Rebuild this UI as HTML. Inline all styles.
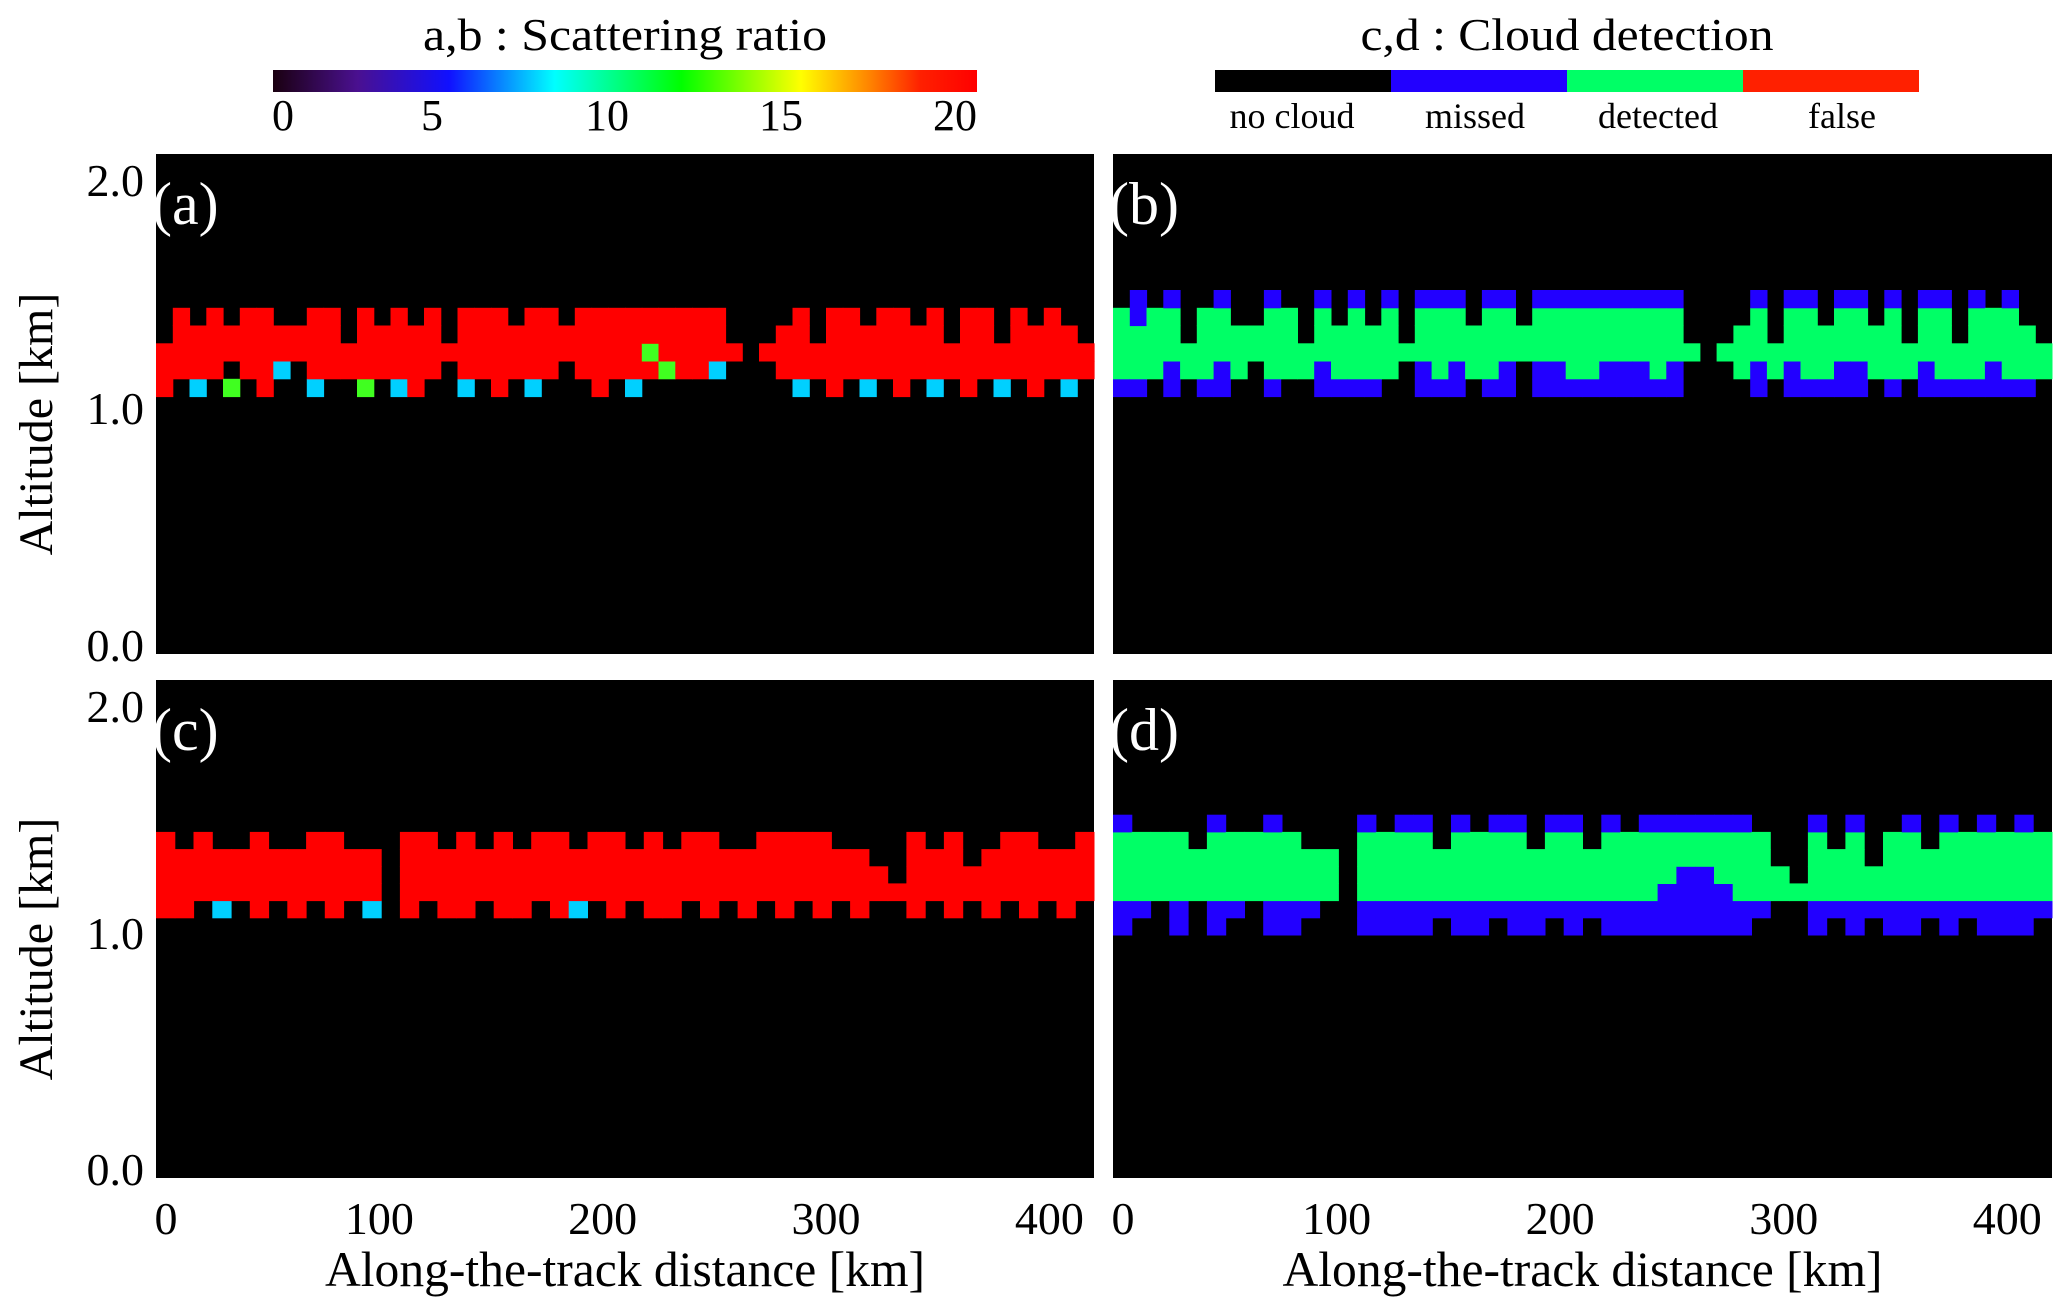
<!DOCTYPE html>
<html><head><meta charset="utf-8"><style>
html,body{margin:0;padding:0;background:#fff;}
svg{display:block;font-family:"Liberation Serif",serif;}
</style></head><body>
<svg id="fig" width="2067" height="1315" viewBox="0 0 2067 1315">
<defs>
<linearGradient id="sr" x1="0" x2="1" y1="0" y2="0">
<stop offset="0" stop-color="#1a0010"/><stop offset="0.12" stop-color="#4a1090"/>
<stop offset="0.25" stop-color="#1010ff"/><stop offset="0.4" stop-color="#00ffff"/>
<stop offset="0.58" stop-color="#00ff00"/><stop offset="0.75" stop-color="#ffff00"/>
<stop offset="0.85" stop-color="#ff8000"/><stop offset="0.92" stop-color="#ff2000"/><stop offset="1" stop-color="#ff0000"/>
</linearGradient>
</defs>
<g>
<text x="625" y="50" font-size="46" text-anchor="middle" textLength="404" lengthAdjust="spacingAndGlyphs">a,b : Scattering ratio</text>
<rect x="273" y="70" width="704" height="22" fill="url(#sr)"/>
<text x="283" y="130" font-size="44" text-anchor="middle">0</text>
<text x="432" y="130" font-size="44" text-anchor="middle">5</text>
<text x="607" y="130" font-size="44" text-anchor="middle">10</text>
<text x="781" y="130" font-size="44" text-anchor="middle">15</text>
<text x="955" y="130" font-size="44" text-anchor="middle">20</text>
</g>
<g>
<text x="1567" y="50" font-size="46" text-anchor="middle" textLength="413" lengthAdjust="spacingAndGlyphs">c,d : Cloud detection</text>
<rect x="1215" y="70" width="176" height="22" fill="#000"/>
<rect x="1391" y="70" width="176" height="22" fill="#2200ff"/>
<rect x="1567" y="70" width="176" height="22" fill="#00ff66"/>
<rect x="1743" y="70" width="176" height="22" fill="#ff2000"/>
<text x="1292" y="128" font-size="36" text-anchor="middle">no cloud</text>
<text x="1475" y="128" font-size="36" text-anchor="middle">missed</text>
<text x="1658" y="128" font-size="36" text-anchor="middle">detected</text>
<text x="1842" y="128" font-size="36" text-anchor="middle">false</text>
</g>
<g id="panels"></g>
</svg>
<script>
// Data: each column string lists cloud-category codes from lowest to highest altitude bin
const xDomain = [0, 420];
const yDomain = [0, 2];
const xTicks = [0, 100, 200, 300, 400];
const yTicks = [0.0, 1.0, 2.0];
const abBinBase = 1.03, abBinH = 0.071;
const cdBinBase = 0.976, cdBinH = 0.069;
const colsA = ["rrr...",".rrrr.","crrr..",".rrrr.","g.rr..",".rrrr.","rrrrr.",".crr..","..rr..","crrrr.",".rrrr.",".rr...","grrrr.",".rrr..","crrrr.","rrrr..",".rrrr.","..r...","crrrr.",".rrrr.","rrrrr.",".rrr..","crrrr.",".rrrr.","..rr..",".rrrr.","rrrrr.",".rrrr.","crrrr.",".rgrr.",".grrr.",".rrrr.",".rrrr.",".crrr.","..r...","......","..r...",".rrr..","crrrr.",".rr...","rrrrr.",".rrrr.","crrr..",".rrrr.","rrrrr.",".rrr..","crrrr.",".rr...","rrrrr.",".rrrr.","crr...",".rrrr.","rrrr..",".rrrr.","crrr..",".rr..."];
const colsB = ["mdddd.","mdddmm",".dddd.","mmdddm",".dd...","mdddd.","mmdddm",".ddd..","..dd..","mddddm",".dddd.",".dd...","mmdddm","mddd..","mddddm","mddd..",".ddddm","..d...","mmdddm","mddddm","mmdddm",".ddd..","mddddm","mmdddm","..dd..","mmdddm","mmdddm","mddddm","mddddm","mmdddm","mmdddm","mmdddm","mddddm","mmdddm","..d...","......","..d...",".ddd..","mmdddm",".dd...","mmdddm","mddddm","mddd..","mmdddm","mmdddm",".ddd..","mddddm",".dd...","mmdddm","mddddm","mdd...","mddddm","mmddd.","mddddm","mddd..",".dd...."];
const colsC = [".rrrrr.",".rrrr..","..rrrr.",".crrr..","..rrr..",".rrrrr.","..rrr..",".rrrr..","..rrrr.",".rrrrr.","..rrr..",".crrr..","......",".rrrrr.","..rrrr.",".rrrr..",".rrrrr.","..rrr..",".rrrrr.",".rrrr..","..rrrr.",".rrrrr.",".crrr..","..rrrr.",".rrrrr.","..rrr..",".rrrrr.",".rrrr..","..rrrr.",".rrrrr.","..rrr..",".rrrr..","..rrrr.",".rrrrr.","..rrrr.",".rrrrr.","..rrr..",".rrrr..","..rr...","..r....",".rrrrr.","..rrr..",".rrrrr.","..rr...",".rrrr..","..rrrr.",".rrrrr.","..rrr..",".rrrr..","..rrrr."];
const colsD = ["mmddddm",".mdddd.","..dddd.","mmdddd.","..ddd..","mmddddm",".mdddd.","..dddd.","mmddddm","mmdddd.",".mddd..","..ddd..","......","mmddddm","mmdddd.","mmddddm","mmddddm",".mddd..","mmddddm","mmdddd.",".mddddm","mmddddm","mmddd..",".mddddm","mmddddm",".mddd..","mmddddm","mmdddd.","mmddddm","mmmdddm","mmmmddm","mmmmddm","mmmdddm","mmddddm",".mdddd.","..dd...","..d....","mmddddm",".mddd..","mmddddm",".mdd...","mmdddd.","mmddddm",".mddd..","mmddddm",".mdddd.","mmddddm","mmdddd.","mmddddm",".mdddd."];
const colorsSR = {r:"#ff0000", g:"#40ff20", c:"#00d0ff", b:"#2060ff"};
const colorsCD = {m:"#2200ff", d:"#00ff66", f:"#ff2000"};

const NS = "http://www.w3.org/2000/svg";
const root = document.getElementById('panels');
function mk(tag, attrs, parent){const e=document.createElementNS(NS,tag);for(const k in attrs)e.setAttribute(k,attrs[k]);(parent||root).appendChild(e);return e;}

const panels = [
 {id:'a', x0:156, x1:1094, y0:154, y1:654, cols:colsA, base:abBinBase, bh:abBinH, colors:colorsSR, yAxis:true, xAxis:false},
 {id:'b', x0:1113, x1:2052, y0:154, y1:654, cols:colsB, base:abBinBase, bh:abBinH, colors:colorsCD, yAxis:false, xAxis:false},
 {id:'c', x0:156, x1:1094, y0:680, y1:1178, cols:colsC, base:cdBinBase, bh:cdBinH, colors:colorsSR, yAxis:true, xAxis:true},
 {id:'d', x0:1113, x1:2052, y0:680, y1:1178, cols:colsD, base:cdBinBase, bh:cdBinH, colors:colorsCD, yAxis:false, xAxis:true}
];
panels.forEach(p=>{
  const g = mk('g',{});
  
  
  const xs = v => p.x0 + (v - xDomain[0])/(xDomain[1]-xDomain[0])*(p.x1-p.x0);
  const ys = v => p.y1 - (v - yDomain[0])/(yDomain[1]-yDomain[0])*(p.y1-p.y0);
  const bg = mk('rect',{x:p.x0,y:p.y0,width:p.x1-p.x0,height:p.y1-p.y0,fill:'#000'},g);
  
  
  const n = p.cols.length, dw = (xDomain[1]-xDomain[0])/n;
  p.cols.forEach((s,i)=>{
    for(let k=0;k<s.length;k++){
      const ch = s[k]; if(!p.colors[ch]) continue;
      const xa = xs(i*dw), xb = xs((i+1)*dw);
      const ya = ys(p.base + k*p.bh), yb = ys(p.base + (k+1)*p.bh);
      const r = mk('rect',{x:xa.toFixed(1),y:yb.toFixed(1),width:(xb-xa+0.5).toFixed(1),height:(ya-yb+0.5).toFixed(1),fill:p.colors[ch]},g);
      
      
    }
  });
  const lbl = mk('text',{x:p.x0-4,y:p.y0+70,'font-size':60,fill:'#fff'},g);
  lbl.textContent = '('+p.id+')';
  
  
  if(p.yAxis){
    yTicks.forEach(t=>{
      let yy = ys(t); yy = Math.min(Math.max(yy, p.y0+22), p.y1-13);
      const tt = mk('text',{x:p.x0-12,y:yy+20,'font-size':46,'text-anchor':'end'},g);
      tt.textContent = t.toFixed(1);
      
      
    });
    const cy = (p.y0+p.y1)/2 + 20;
    const yt = mk('text',{x:0,y:0,'font-size':48,'text-anchor':'middle',transform:`translate(52,${cy}) rotate(-90)`},g);
    yt.textContent = 'Altitude [km]';
    
    
  }
  if(p.xAxis){
    xTicks.forEach(t=>{
      const tt = mk('text',{x:xs(t)+(t===0?10:0),y:1234,'font-size':46,'text-anchor':'middle'},g);
      tt.textContent = t;
      
      
    });
    const xt = mk('text',{x:(p.x0+p.x1)/2,y:1286,'font-size':50,'text-anchor':'middle',textLength:600,lengthAdjust:'spacingAndGlyphs'},g);
    xt.textContent = 'Along-the-track distance [km]';
    
    
  }
});
</script>
</body></html>
